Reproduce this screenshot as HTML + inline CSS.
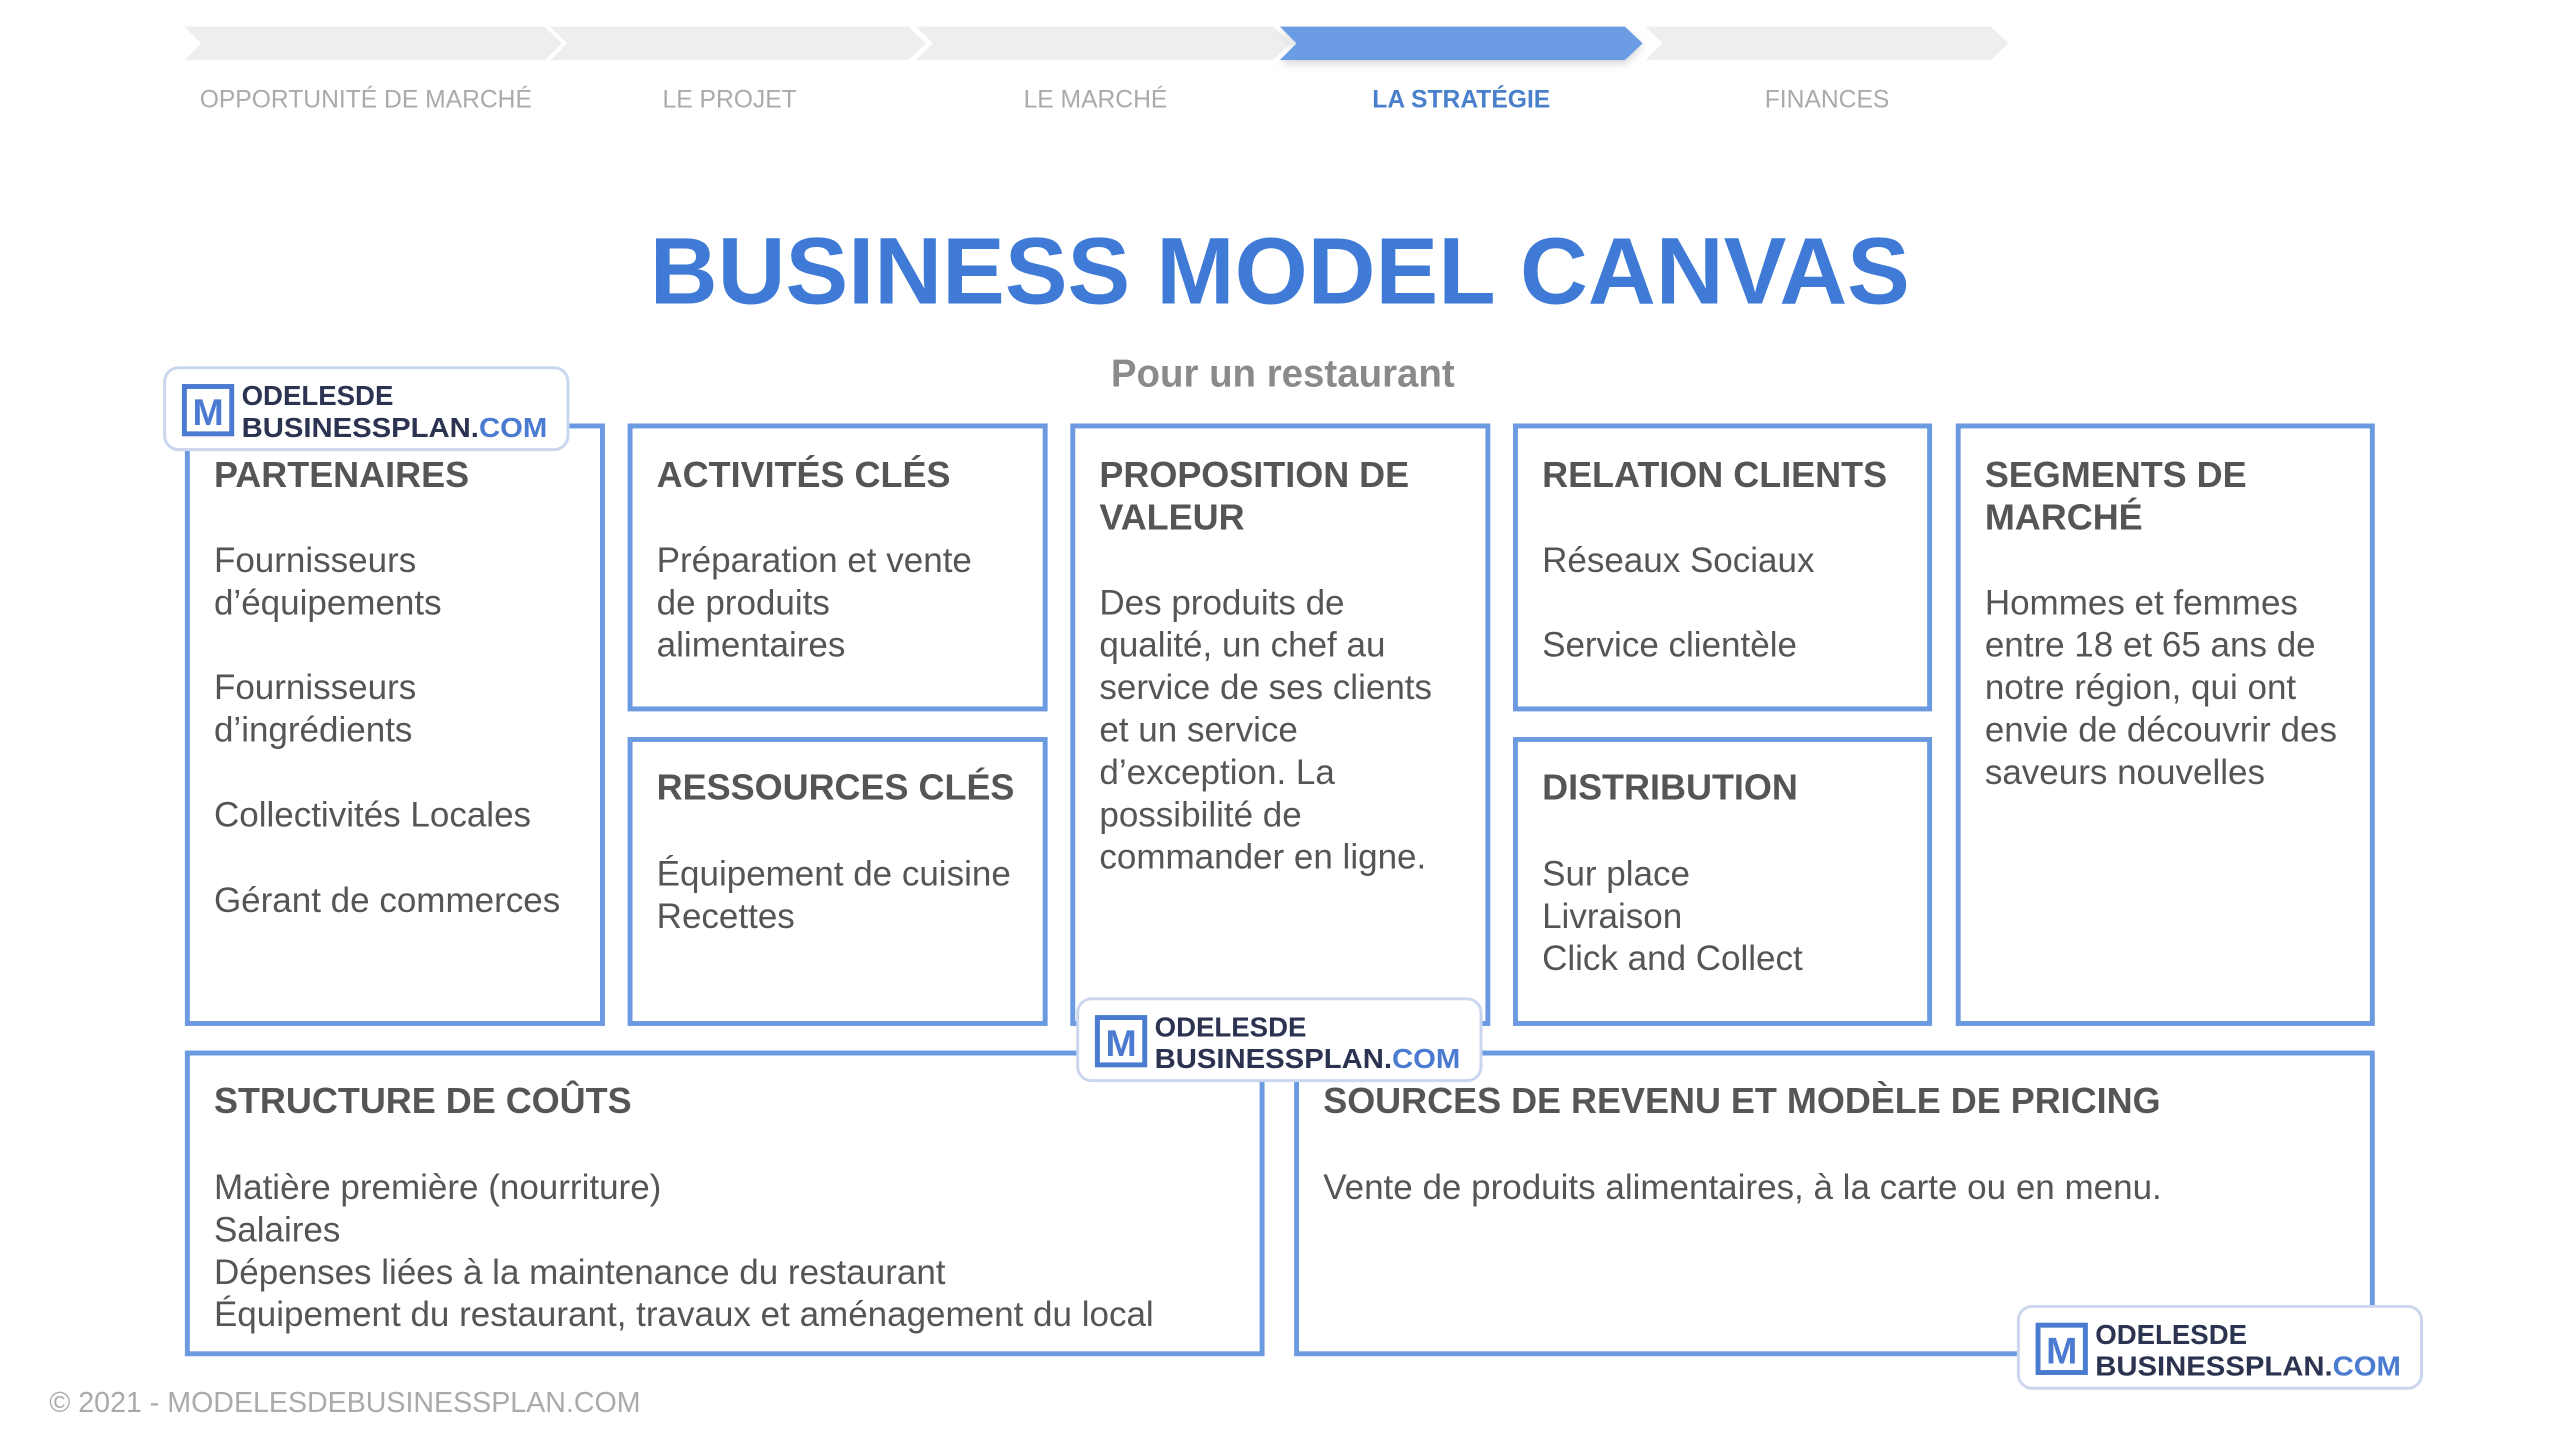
<!DOCTYPE html>
<html><head><meta charset="utf-8"><style>
html,body{margin:0;padding:0;background:#fff;width:2560px;height:1440px;overflow:hidden}
svg{display:block}
.h{font-family:"Liberation Sans",sans-serif;font-weight:bold;fill:#555;font-size:36.5px}
.b{font-family:"Liberation Sans",sans-serif;fill:#555;font-size:35.5px}
.lab{font-family:"Liberation Sans",sans-serif;fill:#aaa;font-size:25px}
.box{fill:#fff;stroke:#6b9ae0;stroke-width:5}
</style></head><body>
<svg width="2560" height="1440" viewBox="0 0 2560 1440" xmlns="http://www.w3.org/2000/svg">
<defs>
<filter id="sh" x="-10%" y="-30%" width="120%" height="180%"><feDropShadow dx="0" dy="4" stdDeviation="4" flood-color="#000" flood-opacity="0.15"/></filter>
<g id="logo">
<rect x="0" y="0" width="409" height="83" rx="14" fill="#fff" stroke="#c9d6ee" stroke-width="3"/>
<rect x="20" y="19" width="48" height="48" fill="#fff" stroke="#4a7bd0" stroke-width="5"/>
<text x="44" y="58" text-anchor="middle" font-family="Liberation Sans,sans-serif" font-weight="bold" font-size="38" fill="#4a7bd0">M</text>
<text x="78" y="38" font-family="Liberation Sans,sans-serif" font-weight="bold" font-size="28" fill="#2b3350">ODELESDE</text>
<text x="78" y="70" font-family="Liberation Sans,sans-serif" font-weight="bold" font-size="28" fill="#2b3350" textLength="310" lengthAdjust="spacingAndGlyphs">BUSINESSPLAN.<tspan fill="#4a7bd0">COM</tspan></text>
</g>
</defs>
<g transform="scale(0.986)">
<g>
<polygon points="187,27 552,27 570,44 552,61 187,61 204,44" fill="#eeeeee"/>
<polygon points="558,27 921,27 939,44 921,61 558,61 575,44" fill="#eeeeee"/>
<polygon points="929,27 1291,27 1309,44 1291,61 929,61 946,44" fill="#eeeeee"/>
<polygon points="1298,27 1648,27 1666,44 1648,61 1298,61 1315,44" fill="#6a9be3" filter="url(#sh)"/>
<polygon points="1669,27 2019,27 2037,44 2019,61 1669,61 1686,44" fill="#eeeeee"/>
</g>
<text class="lab" x="371" y="109" text-anchor="middle">OPPORTUNITÉ DE MARCHÉ</text>
<text class="lab" x="740" y="109" text-anchor="middle">LE PROJET</text>
<text class="lab" x="1111" y="109" text-anchor="middle">LE MARCHÉ</text>
<text class="lab" x="1482" y="109" text-anchor="middle" style="fill:#4a7fcc;font-weight:bold">LA STRATÉGIE</text>
<text class="lab" x="1853" y="109" text-anchor="middle">FINANCES</text>

<text x="1298" y="308" text-anchor="middle" font-family="Liberation Sans,sans-serif" font-weight="bold" font-size="96" fill="#3f7bd6" textLength="1278" lengthAdjust="spacingAndGlyphs">BUSINESS MODEL CANVAS</text>
<text x="1301" y="392" text-anchor="middle" font-family="Liberation Sans,sans-serif" font-weight="bold" font-size="39" fill="#8a8a8a">Pour un restaurant</text>

<rect class="box" x="190" y="432" width="421" height="606"/>
<rect class="box" x="639" y="432" width="421" height="287"/>
<rect class="box" x="639" y="750" width="421" height="288"/>
<rect class="box" x="1088" y="432" width="421" height="606"/>
<rect class="box" x="1537" y="432" width="420" height="287"/>
<rect class="box" x="1537" y="750" width="420" height="288"/>
<rect class="box" x="1986" y="432" width="420" height="606"/>
<rect class="box" x="190" y="1068" width="1090" height="305"/>
<rect class="box" x="1315" y="1068" width="1091" height="305"/>

<text class="h" x="217" y="494">PARTENAIRES</text>
<text class="b" x="217" y="580">Fournisseurs</text>
<text class="b" x="217" y="623">d’équipements</text>
<text class="b" x="217" y="709">Fournisseurs</text>
<text class="b" x="217" y="752">d’ingrédients</text>
<text class="b" x="217" y="838">Collectivités Locales</text>
<text class="b" x="217" y="925">Gérant de commerces</text>

<text class="h" x="666" y="494">ACTIVITÉS CLÉS</text>
<text class="b" x="666" y="580">Préparation et vente</text>
<text class="b" x="666" y="623">de produits</text>
<text class="b" x="666" y="666">alimentaires</text>

<text class="h" x="666" y="811">RESSOURCES CLÉS</text>
<text class="b" x="666" y="898">Équipement de cuisine</text>
<text class="b" x="666" y="941">Recettes</text>

<text class="h" x="1115" y="494">PROPOSITION DE</text>
<text class="h" x="1115" y="537">VALEUR</text>
<text class="b" x="1115" y="623">Des produits de</text>
<text class="b" x="1115" y="666">qualité, un chef au</text>
<text class="b" x="1115" y="709">service de ses clients</text>
<text class="b" x="1115" y="752">et un service</text>
<text class="b" x="1115" y="795">d’exception. La</text>
<text class="b" x="1115" y="838">possibilité de</text>
<text class="b" x="1115" y="881">commander en ligne.</text>

<text class="h" x="1564" y="494">RELATION CLIENTS</text>
<text class="b" x="1564" y="580">Réseaux Sociaux</text>
<text class="b" x="1564" y="666">Service clientèle</text>

<text class="h" x="1564" y="811">DISTRIBUTION</text>
<text class="b" x="1564" y="898">Sur place</text>
<text class="b" x="1564" y="941">Livraison</text>
<text class="b" x="1564" y="984">Click and Collect</text>

<text class="h" x="2013" y="494">SEGMENTS DE</text>
<text class="h" x="2013" y="537">MARCHÉ</text>
<text class="b" x="2013" y="623">Hommes et femmes</text>
<text class="b" x="2013" y="666">entre 18 et 65 ans de</text>
<text class="b" x="2013" y="709">notre région, qui ont</text>
<text class="b" x="2013" y="752">envie de découvrir des</text>
<text class="b" x="2013" y="795">saveurs nouvelles</text>

<text class="h" x="217" y="1129">STRUCTURE DE COÛTS</text>
<text class="b" x="217" y="1216">Matière première (nourriture)</text>
<text class="b" x="217" y="1259">Salaires</text>
<text class="b" x="217" y="1302">Dépenses liées à la maintenance du restaurant</text>
<text class="b" x="217" y="1345">Équipement du restaurant, travaux et aménagement du local</text>

<text class="h" x="1342" y="1129">SOURCES DE REVENU ET MODÈLE DE PRICING</text>
<text class="b" x="1342" y="1216">Vente de produits alimentaires, à la carte ou en menu.</text>

<use href="#logo" x="167" y="373"/>
<use href="#logo" x="1093" y="1013"/>
<use href="#logo" x="2047" y="1325"/>

<text x="50" y="1432" font-family="Liberation Sans,sans-serif" font-size="29" fill="#aaa">© 2021 - MODELESDEBUSINESSPLAN.COM</text>
</g>
</svg>
</body></html>
